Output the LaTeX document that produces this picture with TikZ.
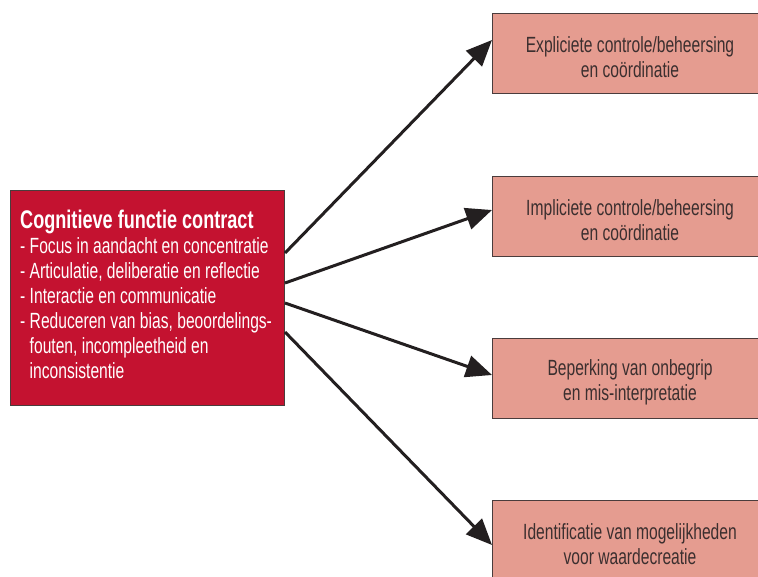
\documentclass[tikz,border=0pt]{standalone}
\usepackage{fontspec}
\setmainfont[FakeStretch=0.71]{Liberation Sans}
\usetikzlibrary{arrows.meta,calc}
\definecolor{crimson}{HTML}{C41230}
\definecolor{salmon}{HTML}{E59C90}
\definecolor{edgegray}{HTML}{4A3C3C}
\definecolor{inkgray}{HTML}{3B2F2F}
\definecolor{arrowblack}{HTML}{231F20}
\tikzset{
  leftbox/.style={draw=edgegray, line width=1pt, fill=crimson, rectangle, inner sep=0pt, anchor=north west},
  rightbox/.style={draw=edgegray, line width=1pt, fill=salmon, rectangle, inner sep=0pt, anchor=north west,
     minimum width=270pt, minimum height=80pt},
  boxtext/.style={inner sep=0pt, text=inkgray, align=center, font=\fontsize{22}{25}\selectfont},
  conn/.style={draw=arrowblack, line width=3pt, -{Triangle[length=26pt,width=22pt]}}
}
\begin{document}
\begin{tikzpicture}[x=1pt,y=-1pt]
\useasboundingbox (0,0) rectangle (758,576);
\node[leftbox, minimum width=274pt, minimum height=215pt] (L) at (10,190) {};
\node[anchor=north west, inner sep=0pt, align=left, text=white, font=\fontsize{22}{25}\selectfont] (Ltext) at (20,210)
 {{\fontsize{25.5}{25}\selectfont\bfseries Cognitieve functie contract}\\
  - Focus in aandacht en concentratie\\
  - Articulatie, deliberatie en reflectie\\
  - Interactie en communicatie\\
  - Reduceren van bias, beoordelings-\\
  \phantom{- }fouten, incompleetheid en\\
  \phantom{- }inconsistentie};
\node[rightbox] (B1) at (492,13) {};
\node[rightbox] (B2) at (492,176) {};
\node[rightbox] (B3) at (492,338) {};
\node[rightbox] (B4) at (492,500) {};
\node[boxtext] (T1) at ($(B1.north west)+(138,44)$) {Expliciete controle/beheersing\\en coördinatie};
\node[boxtext] (T2) at ($(B2.north west)+(138,44)$) {Impliciete controle/beheersing\\en coördinatie};
\node[boxtext] (T3) at ($(B3.north west)+(138,44)$) {Beperking van onbegrip\\en mis-interpretatie};
\node[boxtext] (T4) at ($(B4.north west)+(138,44)$) {Identificatie van mogelijkheden\\voor waardecreatie};
\draw[conn] ($(L.north east)+(0,63)$) -- ($(B1.north west)+(0,27)$);
\draw[conn] ($(L.north east)+(0,93)$) -- ($(B2.north west)+(0,34)$);
\draw[conn] ($(L.north east)+(0,113)$) -- ($(B3.north west)+(0,37)$);
\draw[conn] ($(L.north east)+(0,142)$) -- ($(B4.north west)+(0,45)$);
\end{tikzpicture}
\end{document}
